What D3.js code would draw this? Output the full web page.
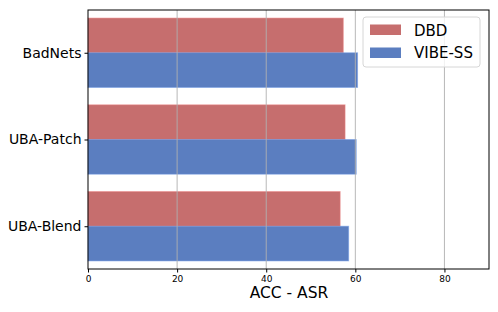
<!DOCTYPE html>
<html>
<head>
<meta charset="utf-8">
<script src="https://cdn.jsdelivr.net/npm/d3@7"></script>
<style>
  body { margin: 0; background: #fff; }
  text { font-family: "DejaVu Sans", sans-serif; fill: #000; }
</style>
</head>
<body>
<svg id="chart" width="498" height="312"></svg>
<script>
const attacks = ['BadNets', 'UBA-Patch', 'UBA-Blend'];
const methods = ['DBD', 'VIBE-SS'];
const dbd = [57.3, 57.7, 56.6];
const vibe = [60.5, 60.2, 58.5];
const xTicks = [0, 20, 40, 60, 80];
const colors = ['#c66e6e', '#5b7ec0'];

const svg = d3.select('#chart');
const margin = { top: 10, right: 9, bottom: 43, left: 88 };
const width = 498 - margin.left - margin.right;
const height = 312 - margin.top - margin.bottom;

const g = svg.append('g').attr('transform', `translate(${margin.left},${margin.top})`);

const x = d3.scaleLinear().domain([0, 90]).range([0, width]);
// categories at 0,1,2 with bars of 0.4 each side
const y = d3.scaleLinear().domain([-0.493, 2.493]).range([0, height]);

const rows = attacks.map((a, i) => ({ attack: a, idx: i, vals: [dbd[i], vibe[i]] }));

rows.forEach(r => {
    r.vals.forEach((v, k) => {
        const y0 = r.idx - 0.4 + k * 0.4;
        g.append('rect')
            .attr('x', x(0))
            .attr('y', y(y0))
            .attr('width', x(v) - x(0))
            .attr('height', y(y0 + 0.4) - y(y0))
            .attr('fill', colors[k])
            .attr('stroke', d3.color(colors[k]).brighter(0.5))
            .attr('stroke-opacity', 0.5)
            .attr('stroke-width', 1);
    });
});

// grid over bars
g.selectAll('.grid')
    .data(xTicks.slice(1))
    .enter().append('line')
    .attr('x1', d => x(d)).attr('x2', d => x(d))
    .attr('y1', 0).attr('y2', height)
    .attr('stroke', '#b0b0b0')
    .attr('stroke-width', 0.9);

// x axis
const xAxis = g.append('g')
    .attr('transform', `translate(0,${height})`)
    .call(d3.axisBottom(x).tickValues(xTicks).tickSize(3.5).tickPadding(3));
xAxis.select('.domain').remove();
xAxis.selectAll('text').style('font-size', '9px').style('font-family', '"DejaVu Sans", sans-serif');

// y axis
const yAxis = g.append('g')
    .call(d3.axisLeft(y).tickValues([0, 1, 2]).tickFormat(i => attacks[i]).tickSize(3.5).tickPadding(3));
yAxis.select('.domain').remove();
yAxis.selectAll('text').style('font-size', '14px').style('font-family', '"DejaVu Sans", sans-serif');

// frame
g.append('rect')
    .attr('x', 0).attr('y', 0)
    .attr('width', width).attr('height', height)
    .attr('fill', 'none')
    .attr('stroke', '#000')
    .attr('stroke-width', 1);

// x label
g.append('text')
    .attr('x', width / 2 + 0.5)
    .attr('y', height + 29)
    .attr('text-anchor', 'middle')
    .style('font-size', '15.5px')
    .text('ACC - ASR');

// legend
const lg = svg.append('g').attr('transform', 'translate(363,17)');
lg.append('rect')
    .attr('width', 117).attr('height', 50)
    .attr('rx', 3)
    .attr('fill', '#fff').attr('fill-opacity', 0.8)
    .attr('stroke', '#d6d6d6');
methods.forEach((m, k) => {
    lg.append('rect')
        .attr('x', 7).attr('y', 7.5 + k * 23)
        .attr('width', 31).attr('height', 10.5)
        .attr('fill', colors[k]);
    lg.append('text')
        .attr('x', 51).attr('y', 18.8 + k * 22.3)
        .style('font-size', '15px')
        .text(m);
});
</script>
</body>
</html>
